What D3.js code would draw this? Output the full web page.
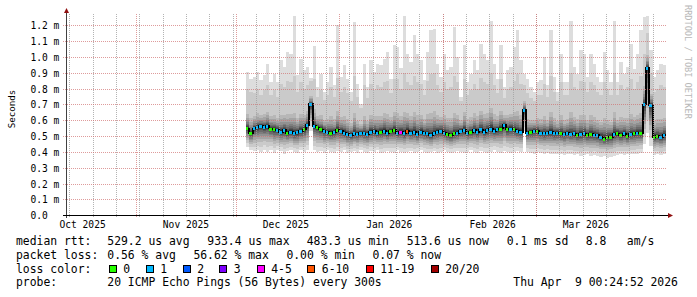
<!DOCTYPE html>
<html>
<head>
<meta charset="utf-8">
<script src="https://d3js.org/d3.v7.min.js"></script>
<style>
  body { margin: 0; background: #ffffff; }
  svg text { font-family: "DejaVu Sans Mono", monospace; white-space: pre; }
</style>
</head>
<body>
<svg id="drawing_region"></svg>
<script>
// time range of the graph (180 days ending at the timestamp)
const endTime = new Date("2026-04-09T00:24:52Z");
const firstDay = new Date("2025-12-04T00:24:52Z");
const firstSunday = new Date("2025-10-12T00:00:00Z");

// per-day values, milliseconds (Dec 4 .. Apr 8)
const medianMs = [
  0.549,0.517,0.549,0.555,0.563,0.555,0.563,0.548,0.542,0.538,
  0.527,0.538,0.521,0.527,0.517,0.523,0.532,0.542,0.570,0.702,
  0.563,0.555,0.542,0.534,0.527,0.521,0.527,0.538,0.532,0.521,
  0.513,0.506,0.517,0.513,0.521,0.517,0.513,0.527,0.534,0.521,
  0.527,0.534,0.521,0.534,0.538,0.521,0.527,0.517,0.534,0.521,
  0.527,0.513,0.527,0.521,0.517,0.506,0.521,0.527,0.534,0.521,
  0.513,0.506,0.517,0.521,0.534,0.538,0.521,0.527,0.538,0.527,
  0.542,0.527,0.538,0.548,0.534,0.542,0.548,0.569,0.542,0.548,
  0.542,0.532,0.527,0.664,0.521,0.527,0.534,0.532,0.521,0.517,
  0.521,0.525,0.517,0.521,0.517,0.513,0.521,0.511,0.517,0.506,
  0.513,0.517,0.506,0.513,0.506,0.506,0.496,0.485,0.492,0.496,
  0.513,0.517,0.506,0.517,0.500,0.513,0.517,0.521,0.517,0.700,
  0.933,0.695,0.496,0.500,0.492,0.506
];
const topMs = [
  0.905,0.864,0.874,0.906,0.853,0.885,0.958,0.843,0.895,0.843,
  0.979,0.937,1.032,1.021,1.260,0.885,0.990,0.916,0.937,0.870,
  1.070,0.811,0.895,0.780,0.843,0.937,0.822,1.200,0.874,0.948,
  0.864,0.780,1.220,0.832,0.706,0.958,0.811,0.979,0.906,0.958,
  0.948,0.990,1.032,0.864,1.074,1.063,0.930,1.260,1.021,0.969,
  1.137,1.021,0.979,0.853,1.032,1.168,1.179,0.958,0.874,1.021,
  0.916,0.937,1.190,1.000,0.748,1.074,0.843,0.895,0.979,0.916,
  1.084,1.021,0.979,1.230,0.958,0.864,1.074,0.811,0.916,0.937,
  1.063,1.168,0.979,0.895,0.864,0.811,0.780,0.843,0.853,1.000,
  0.822,1.168,0.874,0.780,1.021,0.843,0.843,1.230,0.937,0.895,
  1.042,1.021,0.874,1.021,0.958,0.874,0.843,1.032,0.916,0.843,
  1.230,0.843,0.969,0.895,0.937,1.084,0.927,1.021,1.168,1.250,
  1.260,1.042,0.874,0.916,0.958,0.948
];
const upperMs = [
  0.80,0.78,0.77,0.80,0.76,0.79,0.82,0.76,0.79,0.75,
  0.83,0.81,0.85,0.84,0.88,0.78,0.84,0.80,0.82,0.85,
  0.86,0.75,0.79,0.73,0.76,0.81,0.75,0.87,0.78,0.81,
  0.77,0.72,0.88,0.75,0.68,0.82,0.74,0.83,0.79,0.82,
  0.81,0.84,0.85,0.77,0.86,0.86,0.80,0.90,0.84,0.82,
  0.88,0.84,0.83,0.76,0.85,0.89,0.90,0.82,0.78,0.84,
  0.80,0.81,0.88,0.84,0.72,0.86,0.76,0.79,0.83,0.80,
  0.87,0.84,0.83,0.90,0.82,0.77,0.86,0.74,0.80,0.81,
  0.85,0.89,0.83,0.82,0.77,0.74,0.72,0.76,0.76,0.83,
  0.75,0.88,0.78,0.72,0.84,0.76,0.76,0.90,0.81,0.79,
  0.85,0.84,0.78,0.84,0.82,0.78,0.76,0.84,0.80,0.76,
  0.90,0.76,0.82,0.79,0.81,0.86,0.80,0.84,0.88,1.02,
  1.15,0.90,0.78,0.80,0.82,0.81
];
const lowMs = [
  0.430,0.410,0.405,0.410,0.400,0.415,0.400,0.410,0.395,0.410,
  0.405,0.390,0.405,0.410,0.400,0.395,0.410,0.400,0.410,0.530,
  0.410,0.400,0.405,0.395,0.410,0.400,0.395,0.405,0.400,0.410,
  0.395,0.400,0.405,0.395,0.410,0.400,0.395,0.405,0.400,0.410,
  0.395,0.400,0.405,0.400,0.395,0.410,0.400,0.395,0.400,0.405,
  0.395,0.400,0.410,0.400,0.395,0.400,0.405,0.395,0.400,0.410,
  0.400,0.395,0.400,0.405,0.400,0.395,0.400,0.410,0.400,0.395,
  0.405,0.400,0.395,0.400,0.410,0.400,0.395,0.405,0.400,0.395,
  0.400,0.405,0.400,0.530,0.400,0.395,0.390,0.400,0.395,0.390,
  0.395,0.385,0.390,0.385,0.390,0.380,0.385,0.390,0.380,0.385,
  0.375,0.380,0.385,0.375,0.380,0.375,0.370,0.375,0.365,0.370,
  0.375,0.380,0.385,0.380,0.385,0.390,0.385,0.390,0.395,0.450,
  0.520,0.440,0.380,0.385,0.380,0.385
];
// index into lossLabels / lossColors
const lossIdx = [
  0,0,1,1,1,1,1,0,0,1, 1,1,0,1,1,1,1,0,1,1,
  1,0,0,1,1,0,1,0,1,1, 1,1,1,1,1,1,1,1,1,1,
  0,1,1,0,0,1,4,1,5,1, 1,1,1,1,1,1,1,1,1,1,
  0,0,0,1,1,1,1,0,1,1, 1,1,1,1,1,1,0,1,0,1,
  0,1,1,1,1,0,1,0,1,1, 1,1,1,1,0,1,1,1,1,0,
  1,1,0,0,1,1,1,0,0,0, 1,0,0,1,0,1,0,1,0,1,
  1,1,0,0,1,1
];
const lossLabels = ["0", "1", "2", "3", "4-5", "6-10", "11-19", "20/20"];
const lossColors = ["#26ff00", "#00b8ff", "#0059ff", "#7e00ff", "#ff00ff", "#ff5500", "#ff0000", "#a10000"];

const yTickValues = [0, 0.1, 0.2, 0.3, 0.4, 0.5, 0.6, 0.7, 0.8, 0.9, 1.0, 1.1, 1.2];
const yTickLabels = ["0.0", "0.1 m", "0.2 m", "0.3 m", "0.4 m", "0.5 m", "0.6 m", "0.7 m", "0.8 m", "0.9 m", "1.0 m", "1.1 m", "1.2 m"];
const monthStarts = ["2025-10-01", "2025-11-01", "2025-12-01", "2026-01-01", "2026-02-01", "2026-03-01"];
const monthLabels = ["Oct 2025", "Nov 2025", "Dec 2025", "Jan 2026", "Feb 2026", "Mar 2026"];

const rttStats = ["median rtt:", "529.2 us avg", "933.4 us max", "483.3 us min", "513.6 us now", "0.1 ms sd", "8.8   am/s"];
const lossStats = ["packet loss:", "0.56 % avg", "56.62 % max", "0.00 % min", "0.07 % now"];
const probeText = ["probe:", "20 ICMP Echo Pings (56 Bytes) every 300s", "Thu Apr  9 00:24:52 2026"];

class SmokeChart {
    constructor( config ) {
        this.config = config;
        this.init();
    }

    init() {
        let self = this;
        let c = self.config;

        self.svg = d3.select( c.parent )
            .attr('width', c.width)
            .attr('height', c.height);

        self.svg.append('rect')
            .attr('width', c.width).attr('height', c.height)
            .attr('fill', '#ffffff');

        self.xscale = d3.scaleUtc()
            .domain([ d3.utcDay.offset(endTime, -180), endTime ])
            .range([ c.left, c.right ]);

        self.yscale = d3.scaleLinear()
            .domain([ 0, 1.2 ])
            .range([ c.bottom + 0.3, 25.3 ]);

        self.svg.append('clipPath').attr('id', 'plotclip')
            .append('rect')
            .attr('x', c.left).attr('y', c.top)
            .attr('width', c.right - c.left).attr('height', c.bottom - c.top);

        self.plot = self.svg.append('g')
            .attr('clip-path', 'url(#plotclip)')
            .attr('shape-rendering', 'crispEdges');
    }

    render() {
        let self = this;
        let c = self.config;
        let x = self.xscale, y = self.yscale;
        let px = v => Math.round(x(v));

        // smoke: 10 nested bands, light outside, dark near the median
        const greys = [221, 202, 183, 164, 145, 126, 107, 88, 69, 50];
        const fLow = [1, 0.8, 0.62, 0.5, 0.4, 0.31, 0.23, 0.16, 0.1, 0.05];
        const fUp = [null, 1, 0.36, 0.27, 0.2, 0.15, 0.11, 0.08, 0.055, 0.03];

        let cols = medianMs.map( (m, i) => ({
            x0: px(d3.utcDay.offset(firstDay, i)),
            x1: px(d3.utcDay.offset(firstDay, i + 1)),
            med: m, top: topMs[i], upper: upperMs[i], low: lowMs[i], loss: lossIdx[i]
        }));

        let bands = [];
        cols.forEach( d => {
            greys.forEach( (g, k) => {
                let lo = d.med - (d.med - d.low) * fLow[k];
                let hi = k === 0 ? d.top : d.med + (d.upper - d.med) * fUp[k];
                bands.push({ x0: d.x0, x1: d.x1, lo: lo, hi: hi, g: g, k: k });
            });
        });
        bands.sort( (a, b) => a.k - b.k );

        self.plot.selectAll('rect.smoke')
            .data( bands )
            .join('rect')
            .attr('class', 'smoke')
            .attr('x', d => d.x0)
            .attr('width', d => d.x1 - d.x0)
            .attr('y', d => Math.round(y(d.hi)))
            .attr('height', d => Math.max(1, Math.round(y(d.lo)) - Math.round(y(d.hi))))
            .attr('fill', d => d3.rgb(d.g, d.g, d.g));

        // median line
        let pts = cols.map( d => [d.x0, y(d.med)] );
        pts.push([ cols[cols.length - 1].x1, y(cols[cols.length - 1].med) ]);
        self.plot.append('path')
            .attr('d', d3.line().curve(d3.curveStepAfter)(pts))
            .attr('fill', 'none')
            .attr('stroke', '#000000')
            .attr('stroke-width', 1.5);

        // loss coloured median marks
        self.plot.selectAll('rect.lossmark')
            .data( cols )
            .join('rect')
            .attr('class', 'lossmark')
            .attr('x', d => d.x0)
            .attr('width', d => d.x1 - d.x0 - 1)
            .attr('y', d => Math.round(y(d.med)) - 1)
            .attr('height', 3)
            .attr('fill', d => lossColors[d.loss]);

        // grid on top of the data
        let grid = self.svg.append('g');
        let weeks = d3.range(0, 27)
            .map( i => new Date(firstSunday.getTime() + i * 7 * 86400000) )
            .filter( d => d < endTime );
        let months = monthStarts.map( s => new Date(s + "T00:00:00Z") )
            .filter( d => d >= x.domain()[0] );

        weeks.forEach( d => {
            grid.append('line')
                .attr('x1', px(d) + 0.5).attr('x2', px(d) + 0.5)
                .attr('y1', c.top).attr('y2', c.bottom + 2)
                .attr('stroke', '#a0a0a0')
                .attr('stroke-opacity', 0.8)
                .attr('stroke-dasharray', '1,1');
        });

        months.forEach( d => {
            grid.append('line')
                .attr('x1', px(d) + 0.5).attr('x2', px(d) + 0.5)
                .attr('y1', c.top).attr('y2', c.bottom + 3)
                .attr('stroke', '#d07070')
                .attr('stroke-opacity', 0.7)
                .attr('stroke-dasharray', '1,1');
        });

        yTickValues.forEach( v => {
            grid.append('line')
                .attr('x1', c.left - 3).attr('x2', c.right + 1)
                .attr('y1', Math.round(y(v)) + 0.5).attr('y2', Math.round(y(v)) + 0.5)
                .attr('stroke', '#d07070')
                .attr('stroke-opacity', 0.7)
                .attr('stroke-dasharray', '1,1');
        });

        // axes
        self.svg.append('line')
            .attr('x1', c.left + 0.5).attr('x2', c.left + 0.5)
            .attr('y1', c.bottom + 3).attr('y2', 10)
            .attr('stroke', '#404040');
        self.svg.append('line')
            .attr('x1', c.left - 3).attr('x2', c.right + 2)
            .attr('y1', c.bottom + 0.5).attr('y2', c.bottom + 0.5)
            .attr('stroke', '#000000');
        self.svg.append('path')
            .attr('d', `M${c.left - 2},13 L${c.left + 3},13 L${c.left + 0.5},8 Z`)
            .attr('fill', '#901010');
        self.svg.append('path')
            .attr('d', `M${c.right + 2},${c.bottom - 2} L${c.right + 2},${c.bottom + 3} L${c.right + 7},${c.bottom + 0.5} Z`)
            .attr('fill', '#901010');

        // tick labels
        self.svg.selectAll('text.ylab')
            .data( yTickValues )
            .join('text')
            .attr('class', 'ylab')
            .attr('x', 30.5)
            .attr('y', d => Math.round(y(d)) + 0.5)
            .attr('dy', '0.36em')
            .attr('font-size', '9.6px')
            .attr('fill', '#000')
            .text( (d, i) => yTickLabels[i] );

        self.svg.selectAll('text.xlab')
            .data( monthStarts )
            .join('text')
            .attr('class', 'xlab')
            .attr('x', d => x(d3.utcDay.offset(new Date(d + "T00:00:00Z"), 15)))
            .attr('y', 228)
            .attr('text-anchor', 'middle')
            .attr('font-size', '9.6px')
            .text( (d, i) => monthLabels[i] );

        self.svg.append('text')
            .attr('transform', 'translate(15,109) rotate(-90)')
            .attr('text-anchor', 'middle')
            .attr('font-size', '9.2px')
            .text('Seconds');

        self.svg.append('text')
            .attr('transform', 'translate(685,5) rotate(90)')
            .attr('font-size', '8.6px')
            .attr('fill', '#b8b8b8')
            .text('RRDTOOL / TOBI OETIKER');

        // legend
        const fs = '11.4px';
        const rowY = [245, 258.8, 272.6, 286.4];
        const rttX = [16, 107.3, 207.3, 306.7, 406.7, 506.7, 585.7];
        const lossX = [16, 107.3, 193.4, 286.4, 372.5];
        const boxX = [108.7, 145.7, 182.7, 219.3, 256.7, 307.3, 365.7, 430.7];
        const probeX = [16, 107.3, 513.3];
        let lg = self.svg.append('g').attr('font-size', fs).attr('fill', '#000');

        rttStats.forEach( (t, i) => lg.append('text').attr('x', rttX[i]).attr('y', rowY[0]).text(t) );
        lossStats.forEach( (t, i) => lg.append('text').attr('x', lossX[i]).attr('y', rowY[1]).text(t) );
        lg.append('text').attr('x', 16).attr('y', rowY[2]).text('loss color:');
        lossLabels.forEach( (t, i) => {
            lg.append('rect')
                .attr('x', Math.round(boxX[i]) + 0.5).attr('y', 265.5)
                .attr('width', 7).attr('height', 7)
                .attr('fill', lossColors[i])
                .attr('stroke', '#000').attr('stroke-width', 1);
            lg.append('text').attr('x', boxX[i] + 14.5).attr('y', rowY[2]).text(t);
        });
        probeText.forEach( (t, i) => lg.append('text').attr('x', probeX[i]).attr('y', rowY[3]).text(t) );
    }
}

const chart = new SmokeChart({
    parent: '#drawing_region',
    width: 697, height: 297,
    left: 66, right: 666, top: 14, bottom: 215
});
chart.render();
</script>
</body>
</html>
